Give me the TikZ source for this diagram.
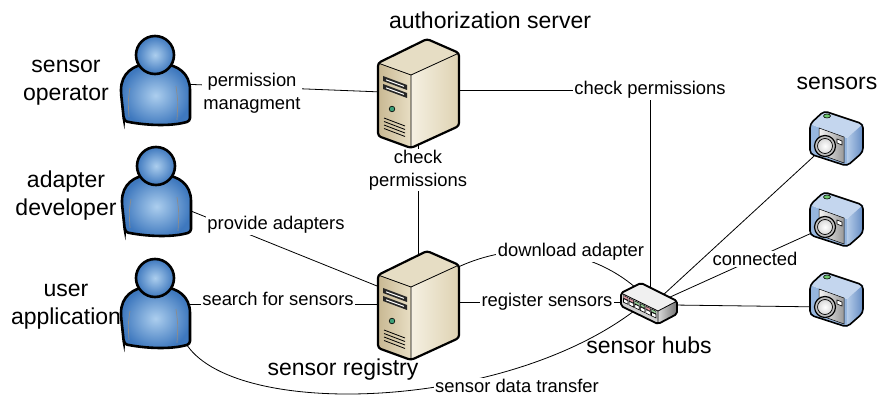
\documentclass[tikz,border=0pt]{standalone}
\usepackage{fontspec}
\setmainfont{Liberation Sans}
\usetikzlibrary{backgrounds}

\definecolor{persondark}{RGB}{62,120,190}
\definecolor{personlight}{RGB}{172,206,238}
\definecolor{srvtan}{RGB}{200,184,146}
\definecolor{srvfront}{RGB}{232,222,196}
\definecolor{srvcream}{RGB}{245,240,226}
\definecolor{srvside}{RGB}{222,210,178}
\definecolor{srvtop}{RGB}{230,221,196}
\definecolor{ledgreen}{RGB}{60,160,120}
\definecolor{portred}{RGB}{222,150,160}
\definecolor{portgreen}{RGB}{150,205,150}
\definecolor{camblue}{RGB}{150,182,222}
\definecolor{camdark}{RGB}{100,140,196}
\definecolor{camlight}{RGB}{196,214,238}
\definecolor{camled}{RGB}{110,200,110}

\tikzset{
  big/.style={font=\fontsize{23}{28}\selectfont,align=center,inner sep=0pt},
  small/.style={font=\fontsize{18.4}{22.5}\selectfont,align=center,fill=white,inner sep=1.5pt},
  link/.style={line width=0.8pt},
  person/.pic={
    \draw[line width=2.6pt,inner color=personlight,outer color=persondark,rounded corners=3pt]
      (-31,66) -- (-34,38) .. controls (-34,18) and (-21,10) .. (-6,9) -- (6,9)
      .. controls (22,10) and (35,18) .. (35,38) -- (35,66)
      .. controls (15,72) and (-12,70) .. (-31,66) -- cycle;
    \draw[black!45,line width=0.7pt] (-25,33) .. controls (-27,46) .. (-26,62);
    \draw[black!45,line width=0.7pt] (21,31) .. controls (23,46) .. (22,65);
    \draw[line width=2.6pt,inner color=personlight,outer color=persondark] (0,0) circle (19);
    \coordinate (-c) at (0,0);
  },
  server/.pic={
    \path[left color=srvtan,right color=srvfront] (0,0) -- (33,12) -- (33,85) -- (0,73) -- cycle;
    \path[left color=srvcream,right color=srvside] (33,12) -- (81,-10) -- (81,63) -- (33,85) -- cycle;
    \path[fill=srvtop] (0,0) -- (49,-24) -- (81,-10) -- (33,12) -- cycle;
    \draw[line width=0.8pt] (0,0) -- (33,12) -- (81,-10) (33,12) -- (33,85);
    % drive bays, power led, vents
    \fill[black!85] (5,13) -- (29,22) -- (29,27) -- (5,18) -- cycle;
    \fill[black!85] (5,21) -- (29,30) -- (29,35) -- (5,26) -- cycle;
    \draw[white,line width=1pt] (8,16.8) -- (26,23.4) (8,24.8) -- (26,31.4);
    \draw[fill=ledgreen,line width=0.6pt] (14,46) circle (2.8);
    \foreach \v in {55,58.5,62,65.5} \draw[line width=0.8pt] (6,\v) -- (27,\v+8);
    \draw[line width=2.2pt,rounded corners=3pt] (0,0) -- (49,-24) -- (81,-10) -- (81,63) -- (33,85) -- (0,73) -- cycle;
    \coordinate (-w1) at (4,13);
    \coordinate (-w) at (4,29);
    \coordinate (-e) at (76,27);
    \coordinate (-n) at (40,-15);
    \coordinate (-ne) at (76,-6);
    \coordinate (-s) at (40,78);
  },
  hub/.pic={
    \path[fill=black!6] (0,0) -- (20,-10) -- (56,8) -- (37,18) -- cycle;
    \path[fill=black!18] (0,0) -- (37,18) -- (37,31) -- (0,13) -- cycle;
    \path[left color=black!15,right color=black!55] (37,18) -- (56,8) -- (56,21) -- (37,31) -- cycle;
    \foreach \i/\c in {0/portred,1/portred,2/portgreen,3/portgreen,4/portred,5/portgreen}{
      \draw[line width=0.4pt,fill=\c] (2.5+5.6*\i,2.5+2.72*\i) -- ++(4.5,2.2) -- ++(0,2.6) -- ++(-4.5,-2.2) -- cycle;
      \draw[line width=0.6pt,fill=white] (2.5+5.6*\i,5.6+2.72*\i) -- ++(4.5,2.2) -- ++(0,3.6) -- ++(-4.5,-2.2) -- cycle;
    }
    \draw[line width=0.8pt] (0,0) -- (37,18) -- (56,8) (37,18) -- (37,31);
    \draw[line width=1.8pt,rounded corners=2pt] (0,0) -- (20,-10) -- (56,8) -- (56,21) -- (37,31) -- (0,13) -- cycle;
    \coordinate (-w) at (4,9);
    \coordinate (-n) at (15,-5);
    \coordinate (-top) at (29,-2);
    \coordinate (-a) at (41,3);
    \coordinate (-b) at (47,5);
    \coordinate (-c) at (52,12);
    \coordinate (-s) at (13,18);
  },
  camera/.pic={
    \path[fill=camblue] (-15,-22) -- (22,-8) -- (22,20) -- (-15,8) -- cycle;
    \path[fill=camlight] (-15,-22) -- (-1,-35) -- (38,-22) -- (22,-8) -- cycle;
    \path[left color=camblue!70!white,right color=camdark] (22,-8) -- (38,-22) -- (38,6) -- (22,20) -- cycle;
    \draw[line width=0.5pt,left color=black!4,right color=black!40] (-6,-18) -- (19,-9) -- (19,17) -- (-6,8) -- cycle;
    \draw[line width=0.6pt,fill=white] (12,-7) -- (17,-5) -- (17,-1) -- (12,-3) -- cycle;
    \draw[line width=0.6pt,fill=camled] (2,-30) ellipse (3.5 and 2);
    \draw[line width=1.2pt,fill=black!25] (0,0) circle (10.5);
    \draw[line width=0.7pt,inner color=white,outer color=black!15] (0,0) circle (7.5);
    \draw[line width=1.6pt,rounded corners=4pt] (-15,-22) -- (-1,-35) -- (38,-22) -- (38,6) -- (22,20) -- (-15,8) -- cycle;
    \coordinate (-c) at (0,0);
  },
}

\begin{document}
\begin{tikzpicture}[x=1pt,y=-1pt]
\useasboundingbox (0,0) rectangle (878,395);

% people, servers, hub and cameras
\path (155,55) pic (op) {person};
\path (156,166) pic (dev) {person};
\path (155,278) pic (app) {person};
\path (378,63) pic (auth) {server};
\path (378,275) pic (reg) {server};
\path (621,293) pic (hub) {hub};
\path (825,146) pic (cam1) {camera};
\path (825,227) pic (cam2) {camera};
\path (825,307) pic (cam3) {camera};

% connections go behind the icons
\begin{scope}[on background layer]
\draw[link] ([shift={(25,29)}]op-c) -- (auth-w);
\draw[link] ([shift={(25,41)}]dev-c) -- (reg-w1);
\draw[link] ([shift={(25,26)}]app-c) -- (reg-w);
\draw[link] (auth-s) -- (reg-n);
\draw[link] (auth-e) -- (auth-e -| hub-top) -- (hub-top);
\draw[link] (reg-ne) .. controls +(63,-31) and +(-46,-40) .. (hub-n);
\draw[link] (reg-e) -- (hub-w);
\draw[link] ([shift={(30,64)}]app-c) .. controls +(45,77) and +(-134,101) .. (hub-s);
\draw[link] (hub-a) -- (cam1-c);
\draw[link] (hub-b) -- (cam2-c);
\draw[link] (hub-c) -- (cam3-c);
\end{scope}

% line labels
\node[small] (permlbl) at (252,93) {permission\\managment};
\node[small] (chklbl) at (418,170) {check\\permissions};
\node[small] (chkhub) at (auth-e -| hub-top) {check permissions};
\node[small] (provlbl) at (276,225) {provide adapters};
\node[small] (searchlbl) at (278,299) {search for sensors};
\node[small] (dllbl) at (571,252) {download adapter};
\node[small] (reglbl) at (547,302) {register sensors};
\node[small] (conlbl) at (755,259) {connected};
\node[small] (datalbl) at (517,386) {sensor data transfer};

% titles
\node[big] (oplbl) at (66,83) {sensor\\operator};
\node[big] (devlbl) at (66,196) {adapter\\developer};
\node[big] (userlbl) at (66,307) {user\\application};
\node[big] (authlbl) at (490,20) {authorization server};
\node[big] (registrylbl) at (343,370) {sensor registry};
\node[big] (hublbl) at (649,345) {sensor hubs};
\node[big] (senslbl) at (837,83) {sensors};
\end{tikzpicture}
\end{document}
